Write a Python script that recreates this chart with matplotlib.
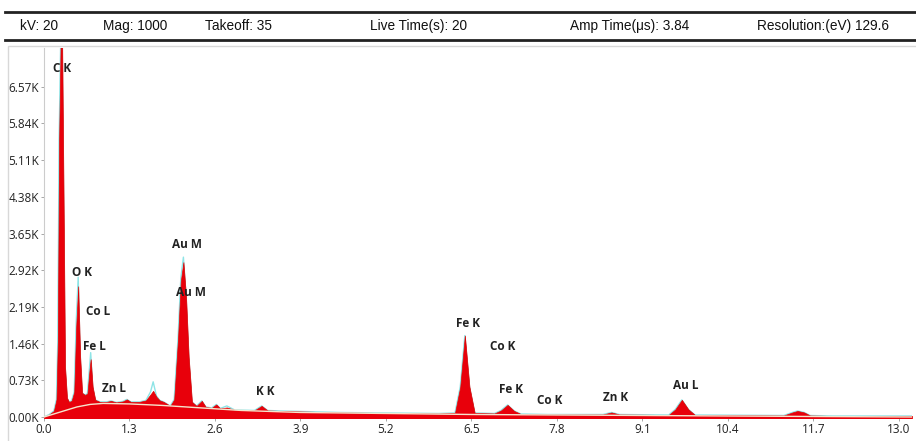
import matplotlib.pyplot as plt
from matplotlib.patches import Rectangle
from matplotlib.lines import Line2D

# header values
header_items = ['kV: 20', 'Mag: 1000', 'Takeoff: 35', 'Live Time(s): 20',
                'Amp Time(μs): 3.84', 'Resolution:(eV) 129.6']
header_x = [20, 103, 205, 370, 570, 757]

# spectrum (energy in keV, counts in thousands)
energy = [0.00, 0.08, 0.15, 0.19, 0.21, 0.23, 0.255, 0.275, 0.30, 0.32,
          0.35, 0.38, 0.42, 0.46, 0.49, 0.52, 0.55, 0.58, 0.62, 0.66,
          0.69, 0.71, 0.74, 0.78, 0.85, 0.95, 1.02, 1.10, 1.20, 1.26,
          1.32, 1.45, 1.55, 1.62, 1.66, 1.71, 1.76, 1.82, 1.92, 1.98,
          2.04, 2.08, 2.12, 2.16, 2.20, 2.25, 2.32, 2.40, 2.46, 2.55,
          2.62, 2.68, 2.78, 2.90, 3.20, 3.31, 3.40, 3.60, 3.90, 4.50,
          5.20, 6.00, 6.25, 6.33, 6.40, 6.47, 6.55, 6.85, 6.95, 7.05,
          7.15, 7.25, 7.65, 8.00, 8.50, 8.63, 8.75, 9.50, 9.60, 9.70,
          9.80, 9.90, 11.25, 11.38, 11.46, 11.56, 11.65, 12.00, 13.20]
counts = [0.00, 0.05, 0.12, 0.35, 1.50, 5.50, 7.60, 7.60, 4.00, 1.00,
          0.38, 0.30, 0.32, 0.50, 1.80, 2.60, 1.20, 0.48, 0.44, 0.46,
          0.90, 1.15, 0.60, 0.34, 0.30, 0.30, 0.32, 0.29, 0.31, 0.35,
          0.30, 0.30, 0.33, 0.45, 0.52, 0.40, 0.33, 0.30, 0.22, 0.35,
          1.60, 2.70, 3.08, 2.40, 1.20, 0.30, 0.22, 0.32, 0.20, 0.18,
          0.25, 0.17, 0.19, 0.14, 0.13, 0.22, 0.13, 0.12, 0.11, 0.09,
          0.08, 0.07, 0.08, 0.60, 1.62, 0.60, 0.08, 0.07, 0.13, 0.24,
          0.12, 0.06, 0.05, 0.05, 0.05, 0.09, 0.05, 0.04, 0.15, 0.34,
          0.15, 0.04, 0.03, 0.09, 0.12, 0.09, 0.03, 0.02, 0.02]
trace = [0.00, 0.05, 0.12, 0.35, 1.50, 5.50, 7.60, 7.60, 4.00, 1.00,
         0.38, 0.30, 0.32, 0.50, 1.90, 2.78, 1.20, 0.48, 0.44, 0.46,
         0.95, 1.28, 0.60, 0.34, 0.30, 0.30, 0.32, 0.29, 0.31, 0.35,
         0.30, 0.30, 0.33, 0.50, 0.70, 0.42, 0.33, 0.30, 0.22, 0.35,
         1.60, 2.75, 3.18, 2.40, 1.20, 0.30, 0.22, 0.32, 0.20, 0.18,
         0.25, 0.17, 0.22, 0.14, 0.13, 0.22, 0.13, 0.12, 0.11, 0.09,
         0.08, 0.07, 0.08, 0.60, 1.62, 0.60, 0.08, 0.07, 0.13, 0.24,
         0.12, 0.06, 0.05, 0.05, 0.05, 0.09, 0.05, 0.04, 0.15, 0.34,
         0.15, 0.04, 0.03, 0.09, 0.12, 0.09, 0.03, 0.02, 0.02]

# fitted background
bg_energy = [0.0, 0.1, 0.3, 0.5, 0.7, 0.9, 1.3, 1.8, 2.4, 3.0, 3.9, 5.2,
             6.5, 7.8, 9.1, 10.4, 11.7, 13.2]
bg_counts = [0.0, 0.04, 0.12, 0.20, 0.25, 0.27, 0.26, 0.23, 0.18, 0.13,
             0.09, 0.07, 0.05, 0.04, 0.03, 0.02, 0.01, 0.0]

# peak labels
labels = ['C K', 'O K', 'Co L', 'Fe L', 'Zn L', 'Au M', 'Au M', 'K K',
          'Fe K', 'Co K', 'Fe K', 'Co K', 'Zn K', 'Au L']
label_x = [0.27, 0.585, 0.83, 0.76, 1.07, 2.17, 2.24, 3.37,
           6.45, 6.98, 7.10, 7.69, 8.69, 9.76]
label_y = [6.94, 2.87, 2.09, 1.41, 0.56, 3.44, 2.47, 0.50,
           1.85, 1.40, 0.55, 0.32, 0.38, 0.62]

x_ticks = [0.0, 1.3, 2.6, 3.9, 5.2, 6.5, 7.8, 9.1, 10.4, 11.7, 13.0]
y_ticks = [0.0, 0.73, 1.46, 2.19, 2.92, 3.65, 4.38, 5.11, 5.84, 6.57]

W, H = 916, 441
fig = plt.figure(figsize=(W / 100, H / 100), dpi=100)
plt.rcParams['font.family'] = ['Liberation Sans', 'DejaVu Sans']

# header bar
fig.add_artist(Line2D([5 / W, 1], [1 - 12 / H, 1 - 12 / H], color='#222222', lw=2))
fig.add_artist(Line2D([5 / W, 1], [1 - 40 / H, 1 - 40 / H], color='#222222', lw=2))
for txt, xp in zip(header_items, header_x):
    fig.text(xp / W, 1 - 26 / H, txt, fontsize=9.8, va='center', ha='left', color='#111111')

# panel frame
fig.add_artist(Rectangle((8 / W, -0.01), 1, 1 - 46 / H + 0.01, fill=False,
                         edgecolor='#d8d8d8', lw=1))

ax = fig.add_axes([44 / W, 1 - 418 / H, (912 - 44) / W, (418 - 48) / H])
ax.plot(energy, trace, color='#8ee4e6', lw=1.0, zorder=2)
ax.fill_between(energy, counts, -0.05, color='#e8000b', lw=0.5, edgecolor='#e00000', zorder=3)
ax.plot(bg_energy, bg_counts, color='#f6e4cc', lw=1.0, zorder=4)

for t, lx, ly in zip(labels, label_x, label_y):
    ax.text(lx, ly, t, fontsize=8.5, ha='center', va='center', fontweight='bold',
            color='#222222', family=['Open Sans', 'DejaVu Sans'], zorder=5)

ax.set_xlim(0, 13.2)
ax.set_ylim(-0.02, 7.34)
ax.set_xticks(x_ticks)
ax.set_xticklabels(['%.1f' % v for v in x_ticks])
ax.set_yticks(y_ticks)
ax.set_yticklabels(['%.2fK' % v for v in y_ticks])
ax.tick_params(axis='both', labelsize=8.5, length=2, width=0.6, color='#999999',
               labelcolor='#222222', pad=1.5)
for lab in ax.get_xticklabels() + ax.get_yticklabels():
    lab.set_family(['Open Sans', 'DejaVu Sans'])
for s in ['top', 'right', 'bottom']:
    ax.spines[s].set_visible(False)
ax.spines['left'].set_color('#cccccc')
ax.spines['left'].set_linewidth(0.8)

fig.savefig('out.png', dpi=100)
